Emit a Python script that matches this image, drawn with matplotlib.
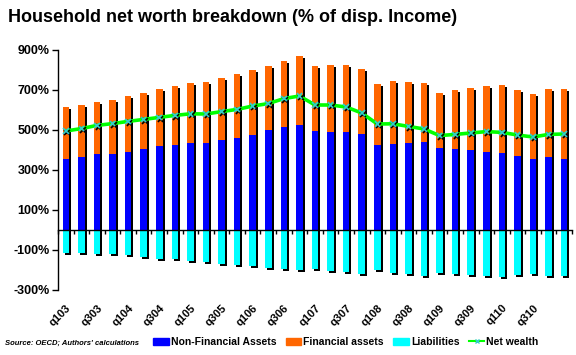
import numpy as np
import matplotlib
matplotlib.use('Agg')
import matplotlib.pyplot as plt
import matplotlib.transforms as mtransforms
import matplotlib.patheffects as pe
from matplotlib.patches import Patch
from matplotlib.lines import Line2D

plt.rcParams['font.family'] = ['Liberation Sans', 'DejaVu Sans']

# --- data (% of disposable income), q1 2003 .. q1 2011 ---
quarters = ['q103', 'q203', 'q303', 'q403', 'q104', 'q204', 'q304', 'q404',
            'q105', 'q205', 'q305', 'q405', 'q106', 'q206', 'q306', 'q406',
            'q107', 'q207', 'q307', 'q407', 'q108', 'q208', 'q308', 'q408',
            'q109', 'q209', 'q309', 'q409', 'q110', 'q210', 'q310', 'q410',
            'q111']
non_financial = [355, 365, 382, 382, 392, 407, 422, 427, 437, 437, 452, 462,
                 477, 502, 517, 527, 497, 492, 492, 482, 427, 432, 437, 442,
                 412, 407, 402, 392, 387, 372, 357, 367, 357]
total_assets = [617, 625, 642, 652, 670, 687, 707, 720, 735, 740, 760, 780,
                800, 820, 847, 872, 820, 827, 827, 807, 732, 747, 742, 737,
                687, 702, 712, 722, 727, 702, 682, 707, 707]
liabilities = [-113, -113, -118, -118, -127, -133, -143, -147, -153, -160,
               -168, -175, -180, -188, -193, -202, -197, -205, -212, -218,
               -202, -213, -222, -228, -215, -220, -225, -230, -237, -225,
               -220, -228, -228]
net_wealth = [495, 507, 523, 532, 543, 553, 563, 573, 581, 580, 592, 603,
              620, 632, 657, 670, 625, 625, 615, 585, 530, 531, 518, 505,
              472, 478, 485, 492, 488, 475, 465, 478, 480]

financial = [t - n for t, n in zip(total_assets, non_financial)]
x = np.arange(len(quarters))

fig = plt.figure(figsize=(5.76, 3.55), dpi=100)
ax = fig.add_axes([58 / 576, 65 / 355, 514 / 576, 240 / 355])

w = 0.42
# black drop shadows, shifted 2px right and 2px down
shadow = ax.transData + mtransforms.ScaledTranslation(2 / 100, -2 / 100, fig.dpi_scale_trans)
ax.bar(x, total_assets, w, color='black', transform=shadow, zorder=1)
ax.bar(x, liabilities, w, color='black', transform=shadow, zorder=1)

ax.bar(x, non_financial, w, color='#0000FF', zorder=2)
ax.bar(x, financial, w, bottom=non_financial, color='#FF6600', zorder=2)
ax.bar(x, liabilities, w, color='#00FFFF', zorder=2)

ax.plot(x, net_wealth, color='#00FF00', lw=2.6, zorder=3)
ax.plot(x, net_wealth, ls='none', marker='x', ms=4, mew=1.2, color='#33CCCC', zorder=4,
        path_effects=[pe.SimpleLineShadow(offset=(1, -1), shadow_color='black', alpha=1),
                      pe.Normal()])

ax.set_xlim(-0.5, len(quarters) - 0.5)
ax.set_ylim(-300, 900)
yt = [-300, -100, 100, 300, 500, 700, 900]
ax.set_yticks(yt, [f'{v}%' for v in yt])
ax.tick_params(axis='y', length=4, width=1, pad=2, labelsize=9)
for lab in ax.get_yticklabels():
    lab.set_fontweight('bold')

for s in ['top', 'right']:
    ax.spines[s].set_visible(False)
ax.spines['left'].set_linewidth(1)
ax.spines['bottom'].set_position(('data', 0))
ax.spines['bottom'].set_linewidth(1)
ax.set_xticks(np.arange(-0.5, len(quarters), 1))
ax.set_xticklabels([])
ax.tick_params(axis='x', length=3, width=1, direction='out')

# category labels at the bottom of the plot
sec = ax.secondary_xaxis('bottom')
sec.spines['bottom'].set_visible(False)
sec.set_xticks(x[:-1:2], quarters[:-1:2], rotation=45, ha='right',
               rotation_mode='anchor', fontsize=8, fontweight='bold')
sec.tick_params(length=0, pad=9)

fig.text(8 / 576, 1 - 18 / 355, 'Household net worth breakdown (% of disp. Income)',
         fontsize=13, fontweight='bold', va='center', ha='left')
fig.text(5 / 576, 1 - 343 / 355, "Source: OECD; Authors' calculations",
         fontsize=5.5, fontweight='bold', fontstyle='italic', va='center', ha='left')

handles = [Patch(color='#0000FF'), Patch(color='#FF6600'), Patch(color='#00FFFF'),
           Line2D([], [], color='#00FF00', lw=1.5, marker='x', ms=3, mec='#33CCCC')]
labels = ['Non-Financial Assets', 'Financial assets', 'Liabilities', 'Net wealth']
fig.legend(handles, labels, ncol=4, loc='center left', bbox_to_anchor=(153 / 576, 1 - 342 / 355),
           frameon=False, handlelength=1.5, handleheight=0.7, handletextpad=0.2,
           columnspacing=0.9, borderpad=0, borderaxespad=0,
           prop={'size': 7.5, 'weight': 'bold'})

fig.savefig('out.png', dpi=100)
